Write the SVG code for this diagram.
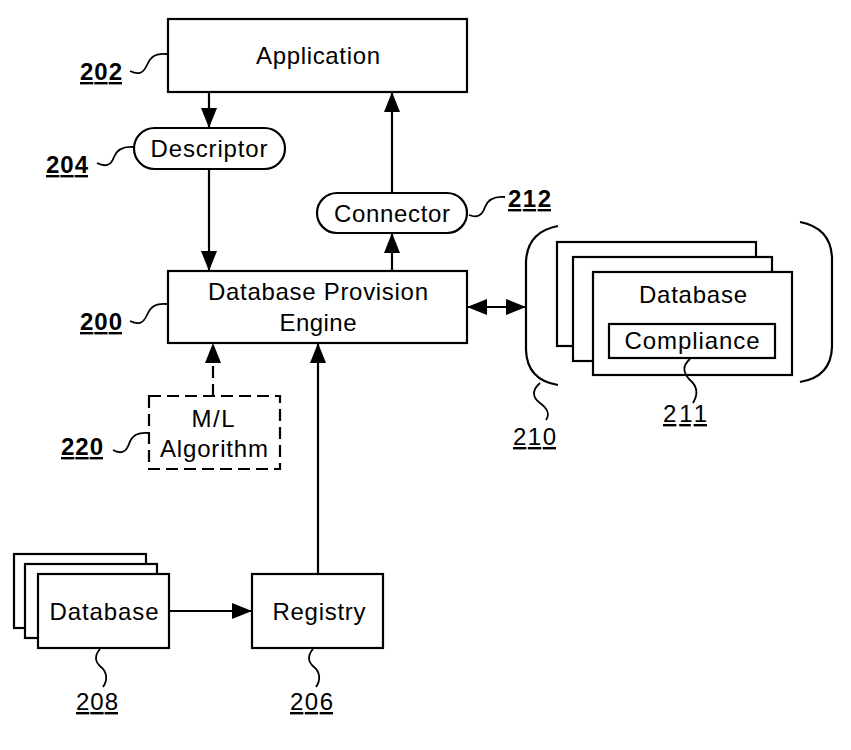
<svg xmlns="http://www.w3.org/2000/svg" width="851" height="750" viewBox="0 0 851 750">
<style>
.box{fill:#fff;stroke:#000;stroke-width:2.2}
.dash{fill:#fff;stroke:#000;stroke-width:2.2;stroke-dasharray:12,6}
.t{font-family:"Liberation Sans",Arial,sans-serif;font-size:24px;fill:#000;text-anchor:middle}
.lb{font-family:"Liberation Sans",Arial,sans-serif;font-size:24px;font-weight:bold;fill:#000;text-decoration:underline}
.ln{font-family:"Liberation Sans",Arial,sans-serif;font-size:24px;fill:#000;text-decoration:underline}
.sq{fill:none;stroke:#000;stroke-width:1.8}
.c{fill:none;stroke:#000;stroke-width:2.2}
</style>
<defs>
<marker id="ah" markerUnits="userSpaceOnUse" markerWidth="20" markerHeight="16" refX="20" refY="8" orient="auto-start-reverse">
<path d="M0,0 L20,8 L0,16 z" fill="#000"/>
</marker>
</defs>
<rect width="851" height="750" fill="#fff"/>

<g id="connectors">
<line class="c" x1="209" y1="92" x2="209" y2="128" marker-end="url(#ah)"/>
<line class="c" x1="209" y1="169" x2="209" y2="271" marker-end="url(#ah)"/>
<line class="c" x1="392" y1="271" x2="392" y2="233" marker-end="url(#ah)"/>
<line class="c" x1="392" y1="193" x2="392" y2="92" marker-end="url(#ah)"/>
<line class="c" x1="467" y1="307" x2="526" y2="307" marker-start="url(#ah)" marker-end="url(#ah)"/>
<line class="c" x1="213" y1="396" x2="213" y2="343" stroke-dasharray="12,6" marker-end="url(#ah)"/>
<line class="c" x1="318" y1="574" x2="318" y2="343" marker-end="url(#ah)"/>
<line class="c" x1="169" y1="611" x2="252" y2="611" marker-end="url(#ah)"/>
</g>

<g id="application">
<rect class="box" x="168" y="19" width="299" height="73"/>
<text class="t" x="318" y="64" textLength="124" lengthAdjust="spacing">Application</text>
<path class="sq" d="M130,71 C138,75 143,74 147,65 C151,56 156,53 167,54"/>
<text class="lb" x="80" y="80" textLength="42" lengthAdjust="spacing">202</text>
</g>

<g id="descriptor">
<rect class="box" x="134" y="128" width="151" height="41" rx="20.5"/>
<text class="t" x="209" y="157" textLength="117" lengthAdjust="spacing">Descriptor</text>
<path class="sq" d="M97,163 C105,167 111,166 114,157 C117,149 123,146 134,147"/>
<text class="lb" x="46" y="173" textLength="42" lengthAdjust="spacing">204</text>
</g>

<g id="connector">
<rect class="box" x="317" y="193" width="150" height="40" rx="20"/>
<text class="t" x="392" y="222" textLength="116" lengthAdjust="spacing">Connector</text>
<path class="sq" d="M469,215 C477,218 482,216 485,207 C488,199 494,196 505,197"/>
<text class="lb" x="508" y="207" textLength="43" lengthAdjust="spacing">212</text>
</g>

<g id="engine">
<rect class="box" x="168" y="271" width="299" height="72"/>
<text class="t" x="318" y="300" textLength="220" lengthAdjust="spacing">Database Provision</text>
<text class="t" x="318" y="331" textLength="77" lengthAdjust="spacing">Engine</text>
<path class="sq" d="M130,321 C138,325 143,324 147,315 C151,306 156,303 167,304"/>
<text class="lb" x="80" y="330" textLength="42" lengthAdjust="spacing">200</text>
</g>

<g id="ml-algorithm">
<rect class="dash" x="149" y="396" width="131" height="73"/>
<text class="t" x="213" y="427" textLength="43" lengthAdjust="spacing">M/L</text>
<text class="t" x="214" y="457" textLength="108" lengthAdjust="spacing">Algorithm</text>
<path class="sq" d="M113,450 C120,454 126,453 129,444 C132,435 138,432 149,433"/>
<text class="lb" x="61" y="455" textLength="42" lengthAdjust="spacing">220</text>
</g>

<g id="database-group">
<path class="c" d="M558,226 Q527,232 526,262 L526,350 Q527,380 558,385"/>
<path class="c" d="M800,222 Q831,228 832,258 L832,347 Q831,377 800,382"/>
<rect class="box" x="557" y="242" width="199" height="104"/>
<rect class="box" x="573" y="257" width="199" height="104"/>
<rect class="box" x="593" y="272" width="199" height="103"/>
<text class="t" x="693" y="303" textLength="108" lengthAdjust="spacing">Database</text>
<path class="sq" d="M540,383 C532,390 532,397 540,403 C548,409 550,414 546,420"/>
<text class="ln" x="513" y="445" textLength="43" lengthAdjust="spacing">210</text>
</g>

<g id="compliance">
<rect class="box" x="609" y="324" width="166" height="34"/>
<text class="t" x="692" y="349" textLength="135" lengthAdjust="spacing">Compliance</text>
<path class="sq" d="M690,359 C682,366 683,373 690,380 C697,386 699,393 693,403"/>
<text class="ln" x="663" y="422" textLength="44" lengthAdjust="spacing">211</text>
</g>

<g id="database-sources">
<rect class="box" x="14" y="554" width="132" height="74"/>
<rect class="box" x="25" y="564" width="132" height="74"/>
<rect class="box" x="38" y="574" width="131" height="74"/>
<text class="t" x="104" y="620" textLength="109" lengthAdjust="spacing">Database</text>
<path class="sq" d="M100,649 C94,656 95,662 101,667 C107,672 108,680 103,687"/>
<text class="ln" x="76" y="710" textLength="42" lengthAdjust="spacing">208</text>
</g>

<g id="registry">
<rect class="box" x="252" y="574" width="131" height="74"/>
<text class="t" x="319" y="620" textLength="93" lengthAdjust="spacing">Registry</text>
<path class="sq" d="M313,649 C307,656 308,662 314,667 C320,672 321,680 316,687"/>
<text class="ln" x="290" y="710" textLength="43" lengthAdjust="spacing">206</text>
</g>
</svg>
